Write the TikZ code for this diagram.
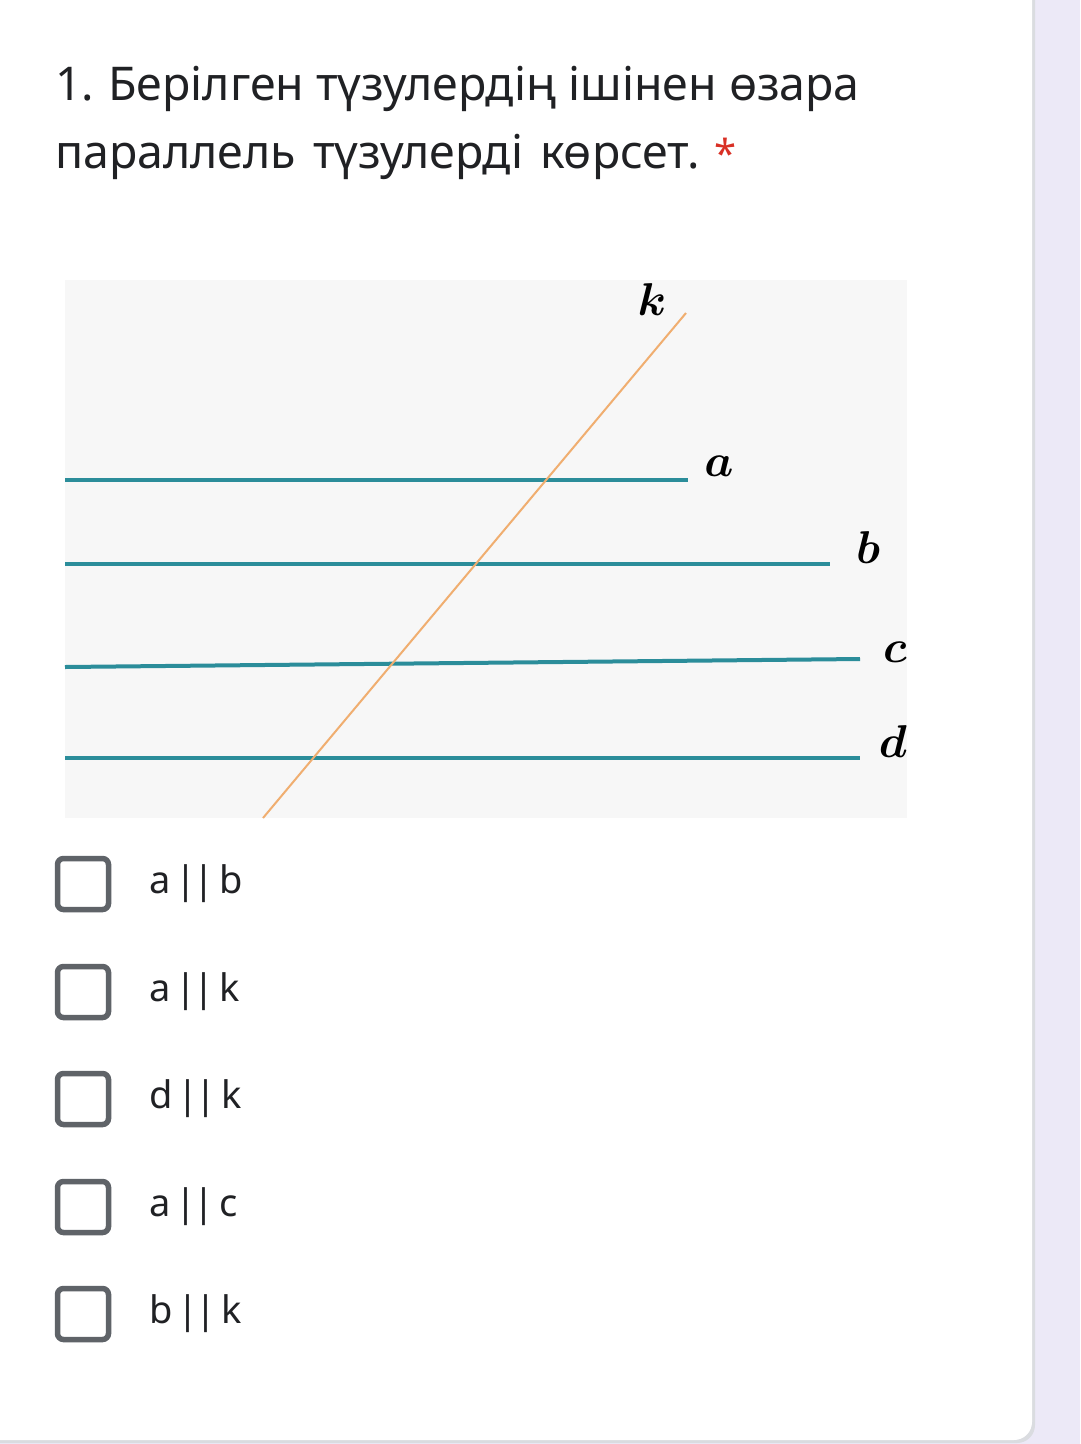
\documentclass[tikz,border=0pt]{standalone}
\usepackage{graphicx}
\usepackage{amsmath}
\usepackage{fontspec}
\setmainfont{Noto Sans}
\definecolor{pagebg}{HTML}{ECE9F7}
\definecolor{cardedge}{HTML}{DADCE0}
\definecolor{figbg}{HTML}{F7F7F7}
\definecolor{teal}{HTML}{2B8D9A}
\definecolor{kline}{HTML}{F0AE70}
\definecolor{txt}{HTML}{202124}
\definecolor{boxgray}{HTML}{5F6368}
\definecolor{star}{HTML}{D93025}
\newcommand{\parsym}{\kern5pt|\kern-3pt|\kern5pt}
\newcommand{\mlbl}[1]{\scalebox{4.6}{$\boldsymbol{#1}$}}
\tikzset{
  parline/.style={draw=teal, line width=4pt},
  transline/.style={draw=kline, line width=2pt},
  lbl/.style={inner sep=0pt},
  titletext/.style={anchor=base west, inner sep=0pt, text=txt, font=\fontsize{46.5}{54}\selectfont},
  checkbox/.style={draw=boxgray, line width=5.5pt, rounded corners=6pt, minimum width=51pt, minimum height=51pt, inner sep=0pt},
  opt/.style={anchor=west, inner sep=0pt, text=txt, font=\fontsize{38}{46}\selectfont},
}
\begin{document}
\begin{tikzpicture}[x=1pt,y=-1pt]
\useasboundingbox (0,0) rectangle (1080,1444);
% page background and card
\fill[pagebg] (0,0) rectangle (1080,1444);
\fill[cardedge] (-20,-20) -- (1035,-20) -- (1035,1425) arc[start angle=0,end angle=90,radius=18] -- (-20,1443) -- cycle;
\fill[white] (-20,-20) -- (1032,-20) -- (1032,1422) arc[start angle=0,end angle=90,radius=18] -- (-20,1440) -- cycle;
% title
\node[titletext] (t1) at (55,100) {1.\kern-2pt{} Берілген түзулердің ішінен өзара};
\node[titletext] (t2) at (55,168) {параллель\kern5pt{} түзулерді\kern5pt{} көрсет.};
\node[anchor=base west, inner sep=0pt, text=star, font=\fontsize{40}{40}\selectfont] (st) at ([xshift=14pt]t2.base east) {*};
% figure
\fill[figbg] (65,280) rectangle (907,818);
\coordinate (a1) at (65,480); \coordinate (a2) at (688,480);
\coordinate (b1) at (65,564); \coordinate (b2) at (830,564);
\coordinate (c1) at (65,667); \coordinate (c2) at (860,659);
\coordinate (d1) at (65,758); \coordinate (d2) at (860,758);
\coordinate (k1) at (263,818); \coordinate (k2) at (686,313);
\draw[parline] (a1) -- (a2);
\draw[parline] (b1) -- (b2);
\draw[parline] (c1) -- (c2);
\draw[parline] (d1) -- (d2);
\draw[transline] (k1) -- (k2);
\node[lbl] (lk) at (652,300) {\mlbl{k}};
\node[lbl] (la) at (719,466) {\mlbl{a}};
\node[lbl] (lb) at (868,548) {\mlbl{b}};
\node[lbl] (lc) at (895,652) {\mlbl{c}};
\node[lbl] (ld) at (893,742) {\mlbl{d}};
% options
\foreach \y/\t/\n in {884/{a\parsym b}/1, 992/{a\parsym k}/2, 1099/{d\parsym k}/3, 1207/{a\parsym c}/4, 1314/{b\parsym k}/5}{
  \node[checkbox] (cb\n) at (83,\y) {};
  \node[opt] (op\n) at (149,\y) {\t};
}
\end{tikzpicture}
\end{document}
